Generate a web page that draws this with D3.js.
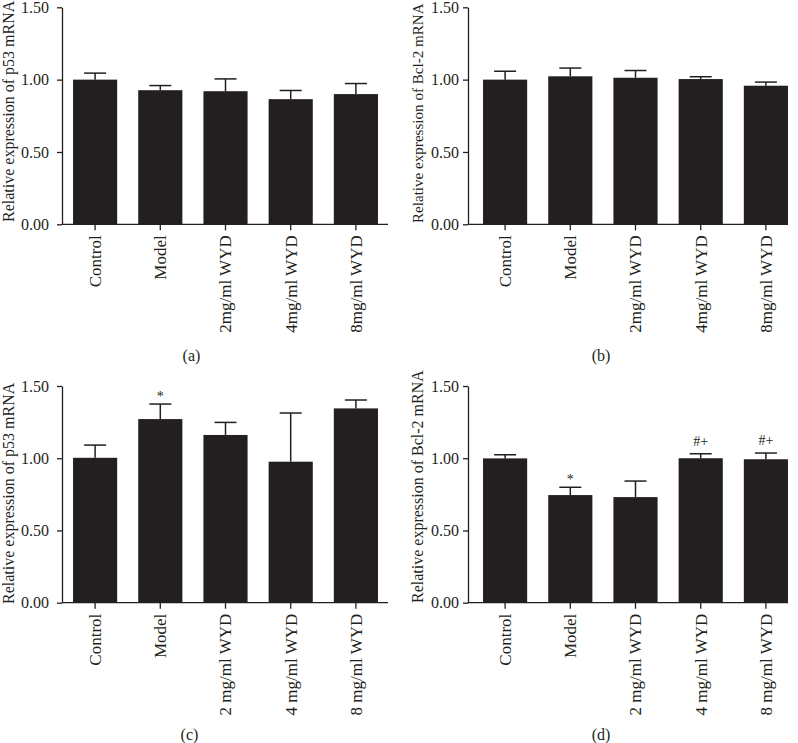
<!DOCTYPE html>
<html>
<head>
<meta charset="utf-8">
<script src="https://cdn.jsdelivr.net/npm/d3@7"></script>
<style>
  html, body { margin: 0; padding: 0; background: #ffffff; }
  svg { display: block; }
  text { font-family: "Liberation Serif", "Times New Roman", serif; fill: #231f20; }
</style>
</head>
<body>
<svg id="chart" width="798" height="743"></svg>
<script>
// ---------------- data ----------------
const categoriesTop = ["Control", "Model", "2mg/ml WYD", "4mg/ml WYD", "8mg/ml WYD"];
const categoriesBottom = ["Control", "Model", "2 mg/ml WYD", "4 mg/ml WYD", "8 mg/ml WYD"];

const p53A = [1.00, 0.927, 0.92, 0.865, 0.90];
const p53AErr = [0.045, 0.032, 0.085, 0.06, 0.073];

const bcl2B = [1.00, 1.023, 1.013, 1.004, 0.958];
const bcl2BErr = [0.058, 0.057, 0.05, 0.016, 0.025];

const p53C = [1.003, 1.271, 1.161, 0.976, 1.345];
const p53CErr = [0.088, 0.104, 0.087, 0.337, 0.058];

const bcl2D = [0.999, 0.745, 0.731, 1.0, 0.993];
const bcl2DErr = [0.025, 0.054, 0.111, 0.031, 0.043];

const sigA = ["", "", "", "", ""];
const sigB = ["", "", "", "", ""];
const sigC = ["", "*", "", "", ""];
const sigD = ["", "*", "", "#+", "#+"];

const yTickValues = [0, 0.5, 1.0, 1.5];
const yTitleP53 = "Relative expression of p53 mRNA";
const yTitleBcl2 = "Relative expression of Bcl-2 mRNA";
const panelLabels = ["(a)", "(b)", "(c)", "(d)"];

// ---------------- layout ----------------
const INK = "#231f20";
const panels = [
  { cats: categoriesTop, vals: p53A, errs: p53AErr, sig: sigA, title: yTitleP53, label: panelLabels[0],
    axisX: 62, axisEnd: 388, bandRange: [62.5, 388.5], top: 7.3, bottom: 224.3, tickPad: 8,
    titleX: 14, titleY: 222, titleSize: 16, labelX: 191.5, labelY: 361 },
  { cats: categoriesTop, vals: bcl2B, errs: bcl2BErr, sig: sigB, title: yTitleBcl2, label: panelLabels[1],
    axisX: 468, axisEnd: 788, bandRange: [472.5, 798.5], top: 7.3, bottom: 224.3, tickPad: 4,
    titleX: 423, titleY: 223, titleSize: 15.1, labelX: 601, labelY: 361 },
  { cats: categoriesBottom, vals: p53C, errs: p53CErr, sig: sigC, title: yTitleP53, label: panelLabels[2],
    axisX: 62, axisEnd: 388, bandRange: [62.5, 388.5], top: 386, bottom: 602.7, tickPad: 8,
    titleX: 14, titleY: 604, titleSize: 16, labelX: 189.5, labelY: 740 },
  { cats: categoriesBottom, vals: bcl2D, errs: bcl2DErr, sig: sigD, title: yTitleBcl2, label: panelLabels[3],
    axisX: 468, axisEnd: 788, bandRange: [472.5, 798.5], top: 386, bottom: 602.7, tickPad: 4,
    titleX: 423, titleY: 603, titleSize: 16, labelX: 601, labelY: 740 }
];

const svg = d3.select("#chart");

panels.forEach(p => {
  const g = svg.append("g");
  const data = p.cats.map((c, i) => ({ cat: c, v: p.vals[i], e: p.errs[i], s: p.sig[i] }));

  const x = d3.scaleBand()
    .domain(p.cats)
    .range(p.bandRange)
    .paddingInner(0.323)
    .paddingOuter(0.1615);

  const y = d3.scaleLinear().domain([0, 1.5]).range([p.bottom, p.top]);

  // bars
  g.selectAll("rect.bar").data(data).enter().append("rect")
    .attr("class", "bar")
    .attr("x", d => x(d.cat))
    .attr("width", x.bandwidth())
    .attr("y", d => y(d.v))
    .attr("height", d => y(0) - y(d.v))
    .attr("fill", INK);

  // error bars
  const capW = 22;
  const eb = g.selectAll("g.err").data(data).enter().append("g").attr("class", "err");
  eb.append("line")
    .attr("x1", d => x(d.cat) + x.bandwidth() / 2)
    .attr("x2", d => x(d.cat) + x.bandwidth() / 2)
    .attr("y1", d => y(d.v))
    .attr("y2", d => y(d.v + d.e))
    .attr("stroke", INK).attr("stroke-width", 1.5);
  eb.append("line")
    .attr("x1", d => x(d.cat) + x.bandwidth() / 2 - capW / 2)
    .attr("x2", d => x(d.cat) + x.bandwidth() / 2 + capW / 2)
    .attr("y1", d => y(d.v + d.e))
    .attr("y2", d => y(d.v + d.e))
    .attr("stroke", INK).attr("stroke-width", 1.5);

  // significance marks
  g.selectAll("text.sig").data(data.filter(d => d.s)).enter().append("text")
    .attr("class", "sig")
    .attr("x", d => x(d.cat) + x.bandwidth() / 2)
    .attr("y", d => y(d.v + d.e) - (d.s === "*" ? 3.5 : 8))
    .attr("text-anchor", "middle")
    .attr("fill", INK)
    .style("font-size", "14px")
    .text(d => d.s);

  // y axis
  const yAxis = d3.axisLeft(y)
    .tickValues(yTickValues)
    .tickFormat(d3.format(".2f"))
    .tickSize(5)
    .tickSizeOuter(0)
    .tickPadding(p.tickPad);
  const ya = g.append("g")
    .attr("transform", `translate(${p.axisX},0)`)
    .call(yAxis);
  ya.selectAll("path, line").attr("stroke", INK).attr("stroke-width", 1.3);
  ya.selectAll("text").style("font-size", "16px").attr("fill", INK);

  // x axis
  const xAxis = d3.axisBottom(x).tickSize(6).tickSizeOuter(0);
  const xa = g.append("g")
    .attr("transform", `translate(0,${p.bottom})`)
    .call(xAxis);
  xa.select("path.domain").attr("d", `M${p.axisX},0H${p.axisEnd}`);
  xa.selectAll("path, line").attr("stroke", INK).attr("stroke-width", 1.3);
  xa.selectAll("text")
    .attr("transform", "rotate(-90)")
    .attr("x", -11)
    .attr("y", 0)
    .attr("dy", "0.35em")
    .attr("text-anchor", "end")
    .style("font-size", "17px")
    .attr("fill", INK);

  // y title
  g.append("text")
    .attr("transform", `translate(${p.titleX},${p.titleY}) rotate(-90)`)
    .attr("text-anchor", "start")
    .attr("fill", INK)
    .style("font-size", p.titleSize + "px")
    .text(p.title);

  // panel label
  g.append("text")
    .attr("x", p.labelX)
    .attr("y", p.labelY)
    .attr("text-anchor", "middle")
    .attr("fill", INK)
    .style("font-size", "16px")
    .text(p.label);
});
</script>
</body>
</html>
